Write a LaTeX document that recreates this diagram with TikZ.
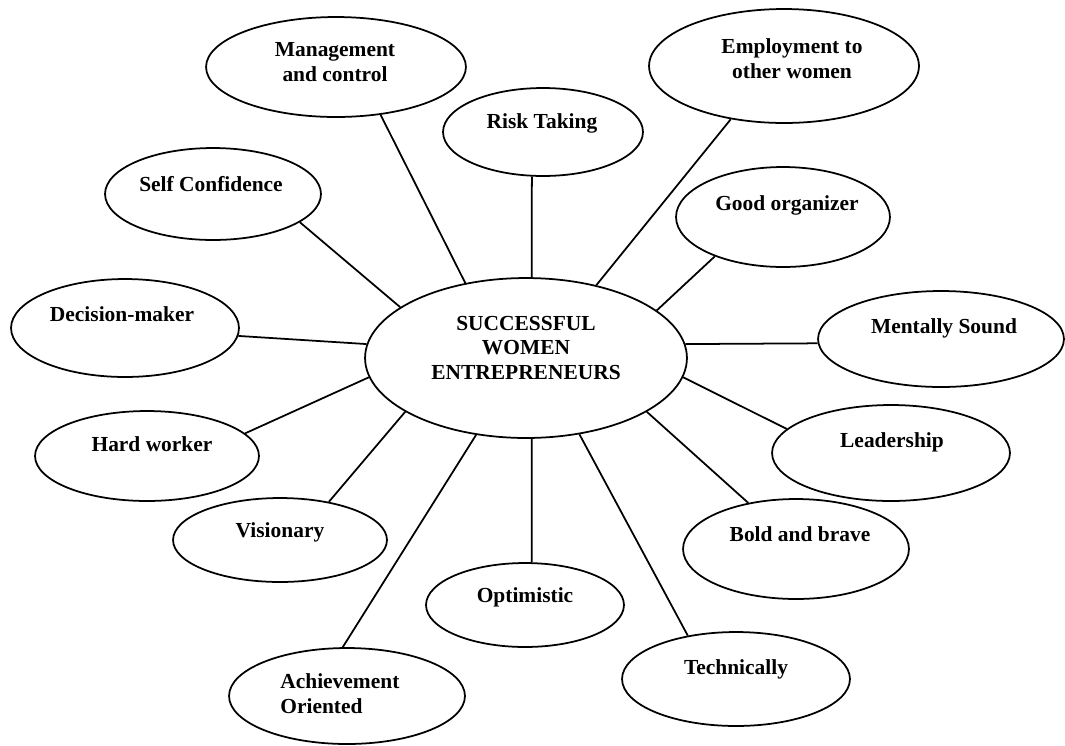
\documentclass[tikz,border=0pt]{standalone}
\usepackage{fontspec}
\setmainfont{Liberation Serif}
\usetikzlibrary{shapes.geometric}

\tikzset{
	bub/.style={draw, ellipse, line width=1pt, inner sep=0pt},
	txt/.style={font=\fontsize{12.2}{13.9}\selectfont\bfseries, inner sep=0pt, anchor=base, align=center},
	spoke/.style={line width=1pt}
}
% ellipse: name, x, y, half width, half height (all in px units)
\newcommand{\bubble}[5]{\node[bub, minimum width=#4*0.04cm, minimum height=#5*0.04cm] (#1) at (#2,#3) {};}

\begin{document}
	\begin{tikzpicture}[x=0.02cm, y=-0.02cm]
		\useasboundingbox (0,0) rectangle (1065,745);
		
		%Centre
		\bubble{C}{526}{358}{161}{80}
		\node[txt] (T0) at (526,379) {SUCCESSFUL\\WOMEN\\ENTREPRENEURS};
		
		%Ellipses round the centre
		\bubble{A1}{336}{67}{130}{50}
		\bubble{A2}{543}{132}{100}{44}
		\bubble{A3}{784}{66}{135}{57}
		\bubble{A4}{213}{194}{108}{46}
		\bubble{A5}{783}{217}{107}{50}
		\bubble{A6}{125}{328}{114}{49}
		\bubble{A7}{941}{339}{123}{48}
		\bubble{A8}{147}{456}{112}{45}
		\bubble{A9}{891}{453}{119}{48}
		\bubble{A10}{280}{540}{107}{42}
		\bubble{A11}{796}{549}{113}{50}
		\bubble{A12}{525}{605}{99}{42}
		\bubble{A13}{736}{679}{114}{47}
		\bubble{A14}{347}{696}{118}{48}
		
		%Labels (base = last line)
		\node[txt] (T1) at (335,81) {Management\\and control};
		\node[txt] (T2) at (542,128) {Risk Taking};
		\node[txt] (T3) at (792,78) {Employment to\\other women};
		\node[txt] (T4) at (211,191) {Self Confidence};
		\node[txt] (T5) at (787,210) {Good organizer};
		\node[txt] (T6) at (122,321) {Decision-maker};
		\node[txt] (T7) at (944,333) {Mentally Sound};
		\node[txt] (T8) at (152,451) {Hard worker};
		\node[txt] (T9) at (892,447) {Leadership};
		\node[txt] (T10) at (280,537) {Visionary};
		\node[txt] (T11) at (800,541) {Bold and brave};
		\node[txt] (T12) at (525,602) {Optimistic};
		\node[txt] (T13) at (736,674) {Technically};
		\node[txt, anchor=base west, align=left] (T14) at (280,713) {Achievement\\Oriented};
		
		%Spokes
		\draw[spoke] (C.129) -- (A1.-47);
		\draw[spoke] (C.86) -- (A2.-104);
		\draw[spoke] (C.46) -- (A3.-135);
		\draw[spoke] (C.158) -- (A4.-18);
		\draw[spoke] (C.20) -- (A5.-150);
		\draw[spoke] (C.175) -- (A6.-4);
		\draw[spoke] (C.5) -- (A7.-178);
		\draw[spoke] (C.-173) -- (A8.13);
		\draw[spoke] (C.-7) -- (A9.167);
		\draw[spoke] (C.-156) -- (A10.38);
		\draw[spoke] (C.-24) -- (A11.136);
		\draw[spoke] (C.-86) -- (A12.81);
		\draw[spoke] (C.-55) -- (A13.138);
		\draw[spoke] (C.-123) -- (A14.95);
		
	\end{tikzpicture}
\end{document}
